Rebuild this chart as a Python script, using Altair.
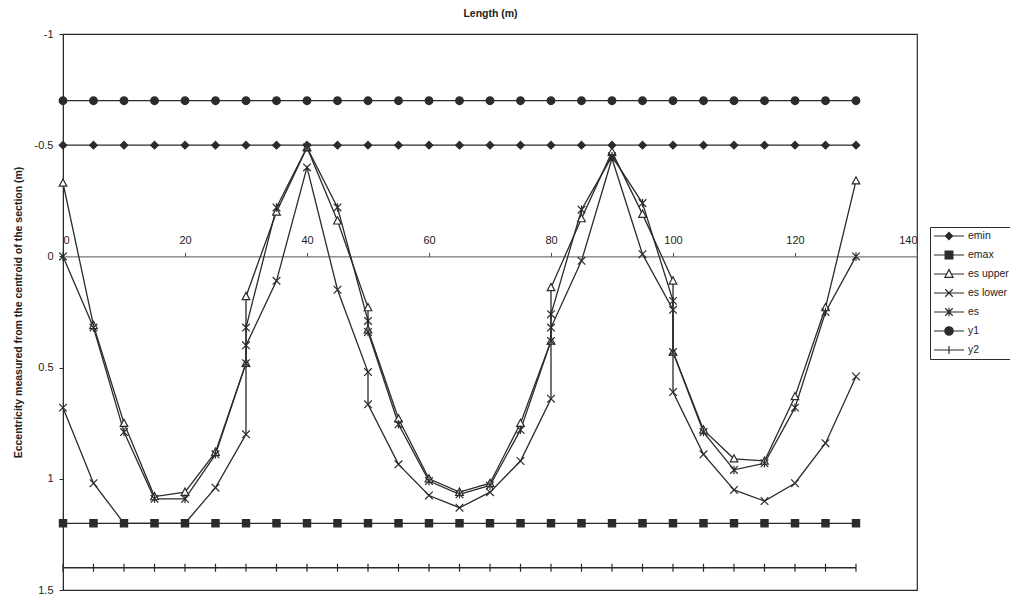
import altair as alt
import pandas as pd

FONT = "Liberation Sans"
INK = "#2b2b2b"

SERIES = ["emin", "emax", "es upper", "es lower", "es", "y1", "y2"]

FLAT_X = [0, 5, 10, 15, 20, 25, 30, 35, 40, 45, 50, 55, 60, 65, 70, 75, 80,
          85, 90, 95, 100, 105, 110, 115, 120, 125, 130]
EMIN = [-0.5, -0.5, -0.5, -0.5, -0.5, -0.5, -0.5, -0.5, -0.5, -0.5, -0.5, -0.5,
        -0.5, -0.5, -0.5, -0.5, -0.5, -0.5, -0.5, -0.5, -0.5, -0.5, -0.5, -0.5,
        -0.5, -0.5, -0.5]
EMAX = [1.2, 1.2, 1.2, 1.2, 1.2, 1.2, 1.2, 1.2, 1.2, 1.2, 1.2, 1.2, 1.2, 1.2,
        1.2, 1.2, 1.2, 1.2, 1.2, 1.2, 1.2, 1.2, 1.2, 1.2, 1.2, 1.2, 1.2]
Y1 = [-0.7, -0.7, -0.7, -0.7, -0.7, -0.7, -0.7, -0.7, -0.7, -0.7, -0.7, -0.7,
      -0.7, -0.7, -0.7, -0.7, -0.7, -0.7, -0.7, -0.7, -0.7, -0.7, -0.7, -0.7,
      -0.7, -0.7, -0.7]
Y2 = [1.4, 1.4, 1.4, 1.4, 1.4, 1.4, 1.4, 1.4, 1.4, 1.4, 1.4, 1.4, 1.4, 1.4,
      1.4, 1.4, 1.4, 1.4, 1.4, 1.4, 1.4, 1.4, 1.4, 1.4, 1.4, 1.4, 1.4]

CURVE_X = [0, 5, 10, 15, 20, 25, 30, 30, 35, 40, 45, 50, 50, 55, 60, 65, 70,
           75, 80, 80, 85, 90, 95, 100, 100, 105, 110, 115, 120, 125, 130]
ES_UPPER = [-0.33, 0.31, 0.75, 1.08, 1.06, 0.88, 0.48, 0.18, -0.20, -0.49,
            -0.16, 0.23, 0.33, 0.73, 1.00, 1.06, 1.02, 0.75, 0.38, 0.14,
            -0.17, -0.47, -0.19, 0.11, 0.43, 0.78, 0.91, 0.92, 0.63, 0.23, -0.34]
ES = [0.00, 0.32, 0.79, 1.09, 1.09, 0.89, 0.48, 0.32, -0.22, -0.49,
      -0.22, 0.29, 0.34, 0.755, 1.01, 1.07, 1.03, 0.78, 0.38, 0.26,
      -0.21, -0.45, -0.24, 0.20, 0.43, 0.79, 0.96, 0.93, 0.68, 0.25, 0.00]
ES_LOWER = [0.68, 1.02, 1.20, 1.20, 1.20, 1.04, 0.80, 0.40, 0.11, -0.40,
            0.15, 0.52, 0.665, 0.935, 1.075, 1.13, 1.06, 0.92, 0.64, 0.32,
            0.02, -0.44, -0.01, 0.24, 0.61, 0.89, 1.05, 1.10, 1.02, 0.84, 0.54]

X_TICKS = [0, 20, 40, 60, 80, 100, 120, 140]
Y_TICKS = [-1, -0.5, 0, 0.5, 1, 1.5]

rows = []
for name, xs, ys in [("emin", FLAT_X, EMIN), ("emax", FLAT_X, EMAX),
                     ("es upper", CURVE_X, ES_UPPER), ("es lower", CURVE_X, ES_LOWER),
                     ("es", CURVE_X, ES), ("y1", FLAT_X, Y1), ("y2", FLAT_X, Y2)]:
    for i, (xv, yv) in enumerate(zip(xs, ys)):
        rows.append({"series": name, "x": xv, "y": yv, "idx": i})
df = pd.DataFrame(rows)

PLOT_W = 854
PLOT_H = 556
ZERO_OFF = PLOT_H * 1.0 / 2.5

# marker shapes (plot)
PT_SHAPES = [
    "M0,-0.9L0.9,0L0,0.9L-0.9,0Z",
    "M-0.85,-0.85H0.85V0.85H-0.85Z",
    "M0,-0.95L0.9,0.75H-0.9Z",
    "M-0.9,-0.9L0.9,0.9M-0.9,0.9L0.9,-0.9",
    "M-0.9,-0.9L0.9,0.9M-0.9,0.9L0.9,-0.9M0,-1V1",
    "M-0.9,0A0.9,0.9 0 1,0 0.9,0A0.9,0.9 0 1,0 -0.9,0Z",
    "M0,-0.95V0.95",
]
# legend shapes (line stub + marker)
LEG_SHAPES = [
    "M-1,0H1M0,-0.24L0.24,0L0,0.24L-0.24,0Z",
    "M-1,0H1M-0.26,-0.26H0.26V0.26H-0.26Z",
    "M-1,0H-0.16M0.16,0H1M0,-0.29L0.27,0.22H-0.27Z",
    "M-1,0H1M-0.25,-0.25L0.25,0.25M-0.25,0.25L0.25,-0.25",
    "M-1,0H1M-0.25,-0.25L0.25,0.25M-0.25,0.25L0.25,-0.25M0,-0.28V0.28",
    "M-1,0H1M-0.28,0A0.28,0.28 0 1,0 0.28,0A0.28,0.28 0 1,0 -0.28,0Z",
    "M-1,0H1M0,-0.26V0.26",
]
FILLS = [INK, INK, "white", "transparent", "transparent", INK, "transparent"]
STROKES = [INK, INK, INK, INK, INK, INK, INK]

xenc = alt.X(
    "x:Q",
    scale=alt.Scale(domain=[0, 140], nice=False, zero=False),
    axis=alt.Axis(orient="top", offset=-ZERO_OFF, values=X_TICKS, format="d",
                  title="Length (m)", titleFont=FONT, titleFontSize=10.5,
                  titleFontWeight="bold", titleColor="#222",
                  titleY=-(ZERO_OFF + 21), titleBaseline="middle",
                  grid=False, tickSize=4, labelPadding=7,
                  domainColor="#555", tickColor="#555", labelFontSize=11,
                  labelColor="#222", labelFont=FONT),
)
yenc = alt.Y(
    "y:Q",
    scale=alt.Scale(domain=[-1, 1.5], reverse=True, nice=False, zero=False),
    axis=alt.Axis(values=Y_TICKS, grid=False, tickSize=4, labelPadding=6,
                  labelExpr="datum.value < 0 ? '-' + format(-datum.value, '~g') : format(datum.value, '~g')",
                  labelFontSize=11, labelColor="#222", labelFont=FONT,
                  domainColor=INK, tickColor=INK,
                  title="Eccentricity measured from the centroid of the section (m)",
                  titleFont=FONT, titleFontSize=10.5, titleFontWeight="bold",
                  titleColor="#222", titleX=-45, titleBaseline="middle"),
)

base = alt.Chart(df)

lines = base.mark_line(color=INK, strokeWidth=1.3).encode(
    x=xenc, y=yenc, detail="series:N", order=alt.Order("idx:Q"))

points = base.mark_point(opacity=1, stroke=INK, strokeWidth=1.2, size=72).encode(
    x=xenc, y=yenc,
    shape=alt.Shape("series:N", scale=alt.Scale(domain=SERIES, range=PT_SHAPES), legend=None),
    fill=alt.Fill("series:N", scale=alt.Scale(domain=SERIES, range=FILLS), legend=None),
)

leg = alt.Legend(orient="none", legendX=867, legendY=193, title=None, padding=3,
                 strokeColor=INK, clipHeight=12, rowPadding=7, symbolOffset=0,
                 labelOffset=3, labelFontSize=10.5, labelFont=FONT, labelColor="#222",
                 symbolStrokeColor=INK, symbolStrokeWidth=1.2, symbolSize=900)

legend_layer = base.transform_filter("false").mark_point(
    opacity=1, strokeWidth=1.2, size=900).encode(
    x=xenc, y=yenc,
    shape=alt.Shape("series:N", scale=alt.Scale(domain=SERIES, range=LEG_SHAPES), legend=leg),
    fill=alt.Fill("series:N", scale=alt.Scale(domain=SERIES, range=FILLS), legend=leg),
    stroke=alt.Stroke("series:N", scale=alt.Scale(domain=SERIES, range=STROKES), legend=leg),
)

chart = alt.layer(lines, points, legend_layer).resolve_scale(
    shape="independent", fill="independent", stroke="independent"
).properties(
    width=PLOT_W, height=PLOT_H,
    padding={"left": 55, "top": 26, "right": 93, "bottom": 6},
    autosize=alt.AutoSizeParams(type="none"),
    background="white",
).configure_view(stroke=INK, strokeWidth=1.2)

chart.save("out.html", embed_options={"renderer": "svg", "actions": False})
